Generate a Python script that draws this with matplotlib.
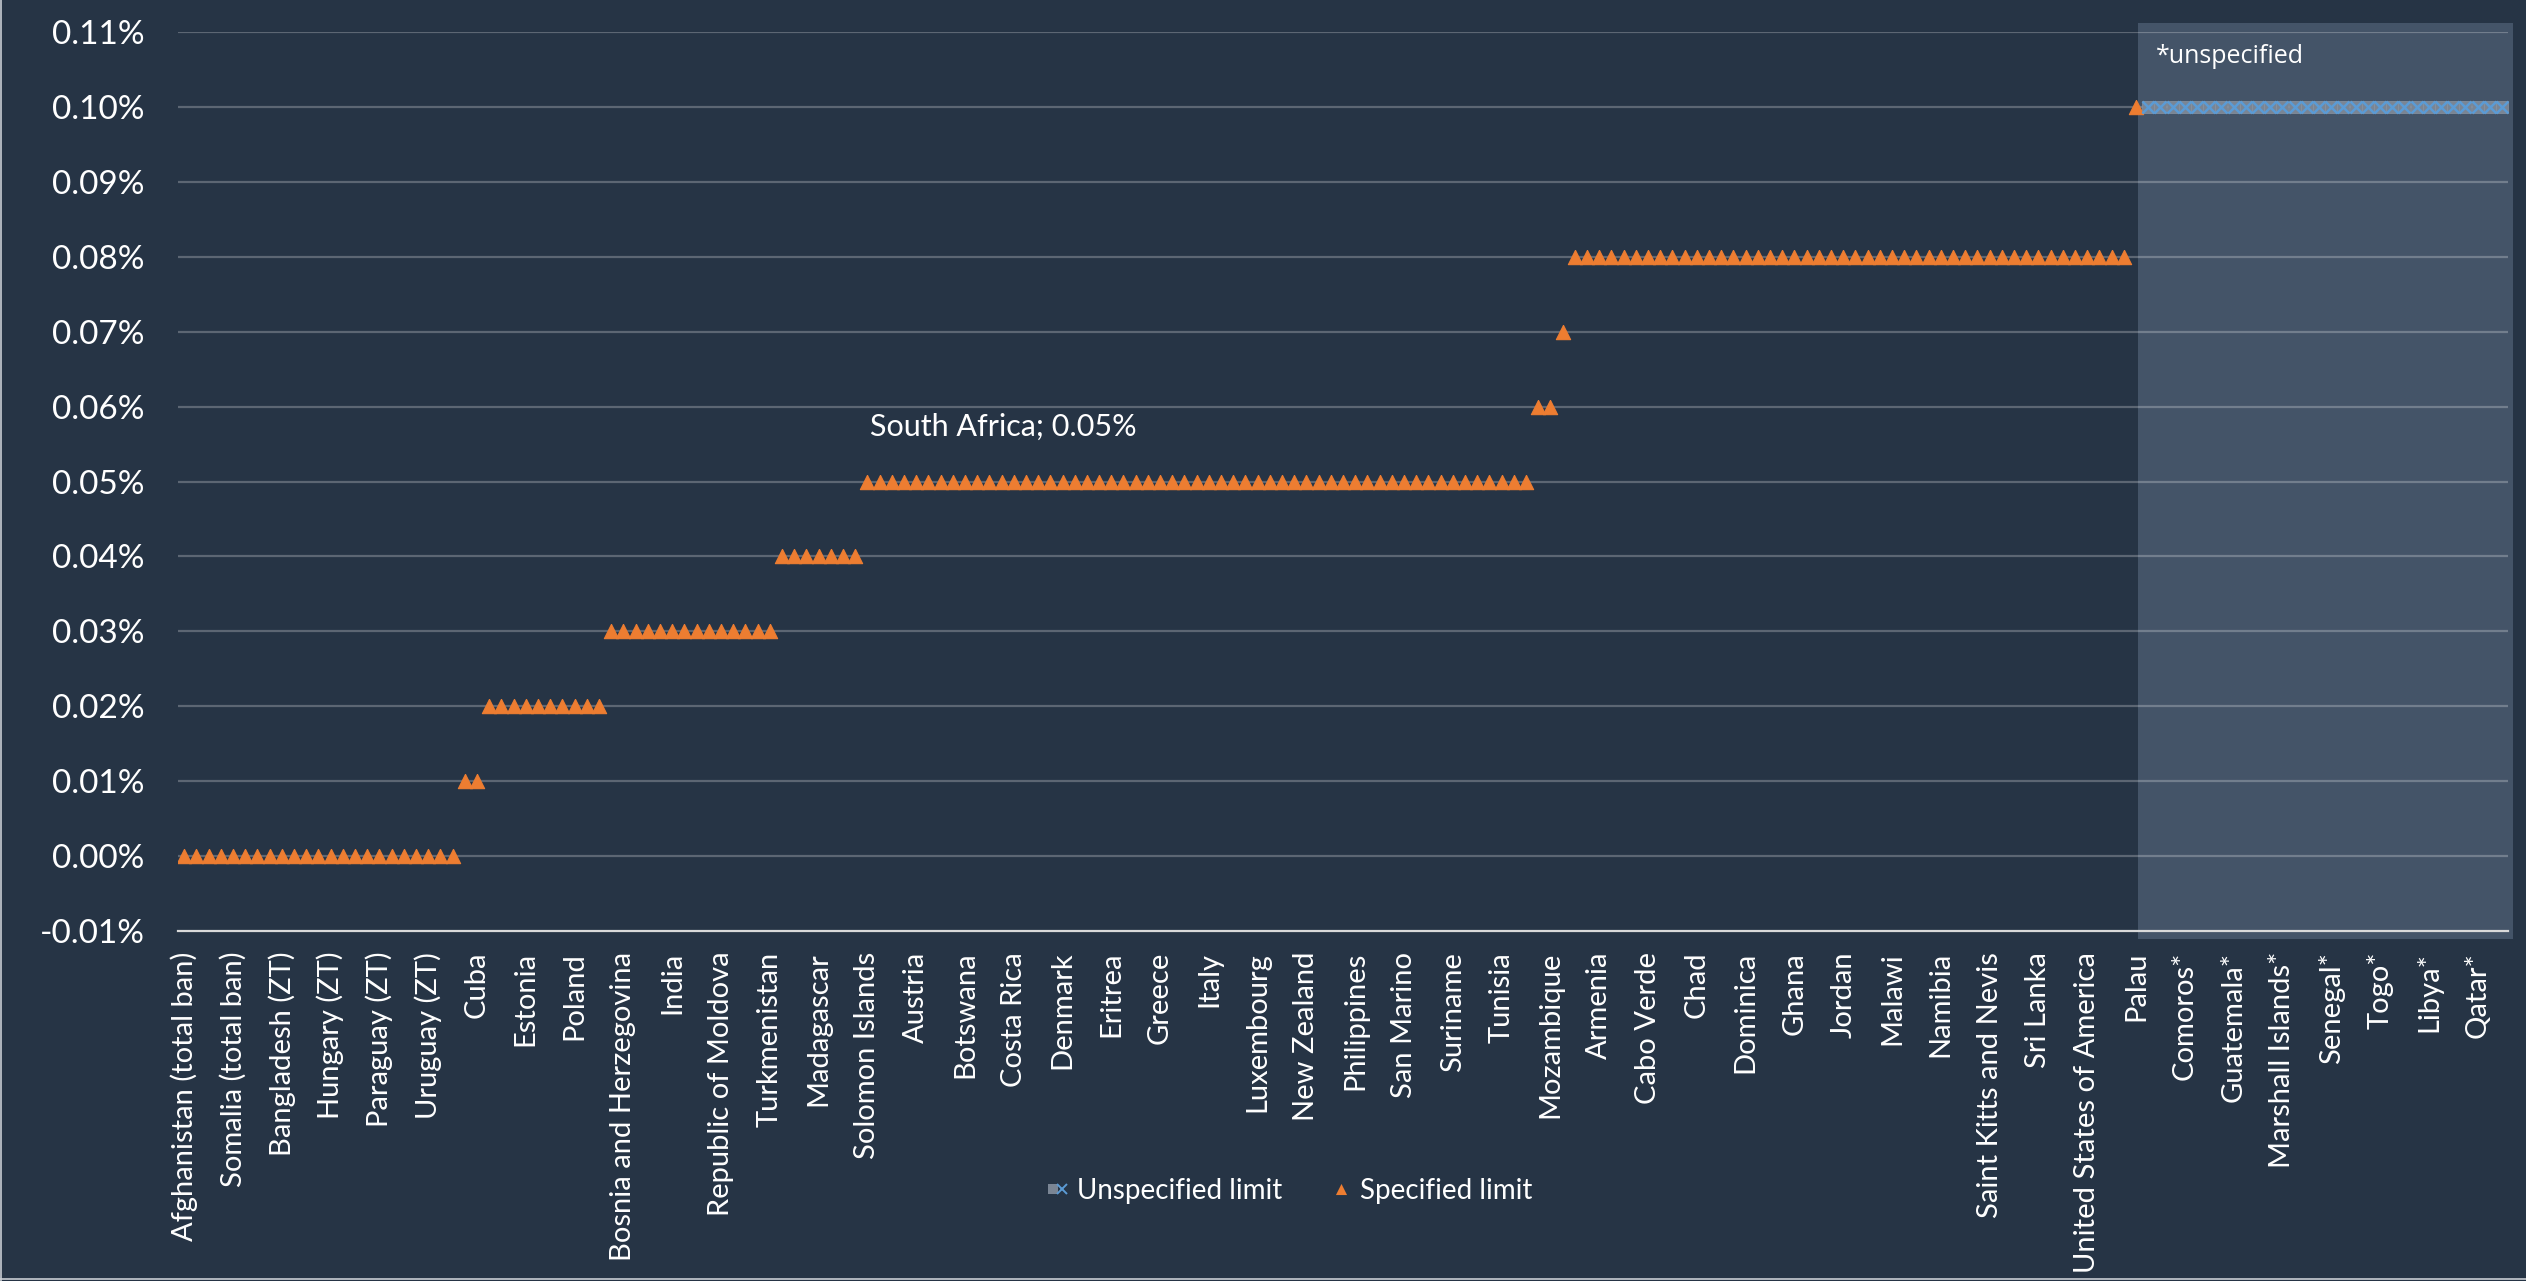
import numpy as np
import matplotlib.pyplot as plt
from matplotlib.patches import Rectangle
from matplotlib.lines import Line2D
from matplotlib.legend_handler import HandlerTuple

# every 4th country is labelled on the category axis
tick_labels = [
    "Afghanistan (total ban)", "Somalia (total ban)", "Bangladesh (ZT)", "Hungary (ZT)",
    "Paraguay (ZT)", "Uruguay (ZT)", "Cuba", "Estonia", "Poland", "Bosnia and Herzegovina",
    "India", "Republic of Moldova", "Turkmenistan", "Madagascar", "Solomon Islands",
    "Austria", "Botswana", "Costa Rica", "Denmark", "Eritrea", "Greece", "Italy",
    "Luxembourg", "New Zealand", "Philippines", "San Marino", "Suriname", "Tunisia",
    "Mozambique", "Armenia", "Cabo Verde", "Chad", "Dominica", "Ghana", "Jordan", "Malawi",
    "Namibia", "Saint Kitts and Nevis", "Sri Lanka", "United States of America", "Palau",
    "Comoros*", "Guatemala*", "Marshall Islands*", "Senegal*", "Togo*", "Libya*", "Qatar*",
]
label_step = 4

# BAC limits (%) and how many countries sit at each level
specified_levels = [0.00, 0.01, 0.02, 0.03, 0.04, 0.05, 0.06, 0.07, 0.08, 0.10]
specified_counts = [23, 2, 10, 14, 7, 55, 2, 1, 46, 1]
unspecified_level = 0.10
unspecified_count = 30

south_africa_value = 0.05

BG = "#263445"
PANEL = "#445468"
ORANGE = "#ed7d31"
BLUE = "#5b9bd5"
BOX = "#7a8594"

# taller-than-wide triangle like the spreadsheet marker
TRI = [(0, 1), (-1, -1), (1, -1), (0, 1)]

plt.rcParams["font.family"] = ["Lato", "DejaVu Sans"]

specified = np.repeat(specified_levels, specified_counts)
unspecified = np.full(unspecified_count, unspecified_level)
n_spec = len(specified)
n_total = n_spec + unspecified_count
x_spec = np.arange(n_spec)
x_unspec = np.arange(n_spec, n_total)

fig = plt.figure(figsize=(25.26, 12.81), dpi=100, facecolor=BG)
ax = fig.add_axes([0.0705, 0.2732, 0.9224, 0.7017], facecolor=BG)

ax.set_xlim(-0.5, n_total - 0.5)
ax.set_ylim(-0.01, 0.11)

# shaded block behind the countries without a specified limit
ax.add_patch(Rectangle((n_spec - 0.84, -0.011), n_total - n_spec + 0.73, 0.1222,
                       facecolor=PANEL, edgecolor="none", zorder=0, clip_on=False))
ax.text(n_spec + 0.6, 0.1068, "*unspecified", color="white", fontsize=18,
        family=["Open Sans", "DejaVu Sans"], ha="left", va="center")

yticks = np.arange(-0.01, 0.111, 0.01)
ax.set_yticks(yticks)
ax.set_yticklabels([f"{t:.2f}%" for t in yticks])
for t in yticks[1:]:
    ax.axhline(t, color="white", alpha=0.25, lw=1.6, zorder=1)

for s in ["top", "right", "left"]:
    ax.spines[s].set_visible(False)
ax.spines["bottom"].set_color("#d9d9d9")
ax.spines["bottom"].set_linewidth(1.6)

ax.tick_params(axis="y", length=0, pad=24, labelsize=24, labelcolor="white")
ax.tick_params(axis="x", length=0, pad=15, labelsize=21, labelcolor="white")
ax.set_xticks(np.arange(0, n_total, label_step))
ax.set_xticklabels(tick_labels, rotation=90, ha="center", va="top")

ax.plot(x_spec, specified, linestyle="none", marker=TRI, markersize=10.3,
        color=ORANGE, markeredgecolor=ORANGE, markeredgewidth=0.8, zorder=3)
ax.plot(x_unspec, unspecified, linestyle="none", marker="s", markersize=8.2,
        markerfacecolor=BOX, markeredgecolor="#8a95a2", markeredgewidth=0.5, zorder=3)
ax.plot(x_unspec, unspecified, linestyle="none", marker="x", markersize=8.0,
        markeredgecolor=BLUE, markeredgewidth=1.8, zorder=4)

ax.text(56.2, south_africa_value + 0.0073, f"South Africa; {south_africa_value:.2f}%",
        color="white", fontsize=22, ha="left", va="center")

h_unspec = (Line2D([], [], linestyle="none", marker="s", markersize=7,
                   markerfacecolor=BOX, markeredgewidth=0),
            Line2D([], [], linestyle="none", marker="x", markersize=6.5,
                   markeredgecolor=BLUE, markeredgewidth=1.4))
h_spec = Line2D([], [], linestyle="none", marker=TRI, markersize=8,
                color=ORANGE, markeredgewidth=0)
fig.legend([h_unspec, h_spec], ["Unspecified limit", "Specified limit"],
           handler_map={tuple: HandlerTuple(ndivide=None, pad=0)},
           loc="center", bbox_to_anchor=(0.511, 0.0703), ncol=2, frameon=False,
           fontsize=20, labelcolor="white", handlelength=0.6, handletextpad=0.4,
           columnspacing=1.8)

# thin frame edges of the chart area
fig.add_artist(Line2D([0.0004, 0.0004], [0, 1], color="#c8ccd2", lw=1.2,
                      transform=fig.transFigure))
fig.add_artist(Line2D([0, 1], [0.0012, 0.0012], color="#c8ccd2", lw=1.2,
                      transform=fig.transFigure))

fig.savefig("out.png", dpi=100, facecolor=BG)
